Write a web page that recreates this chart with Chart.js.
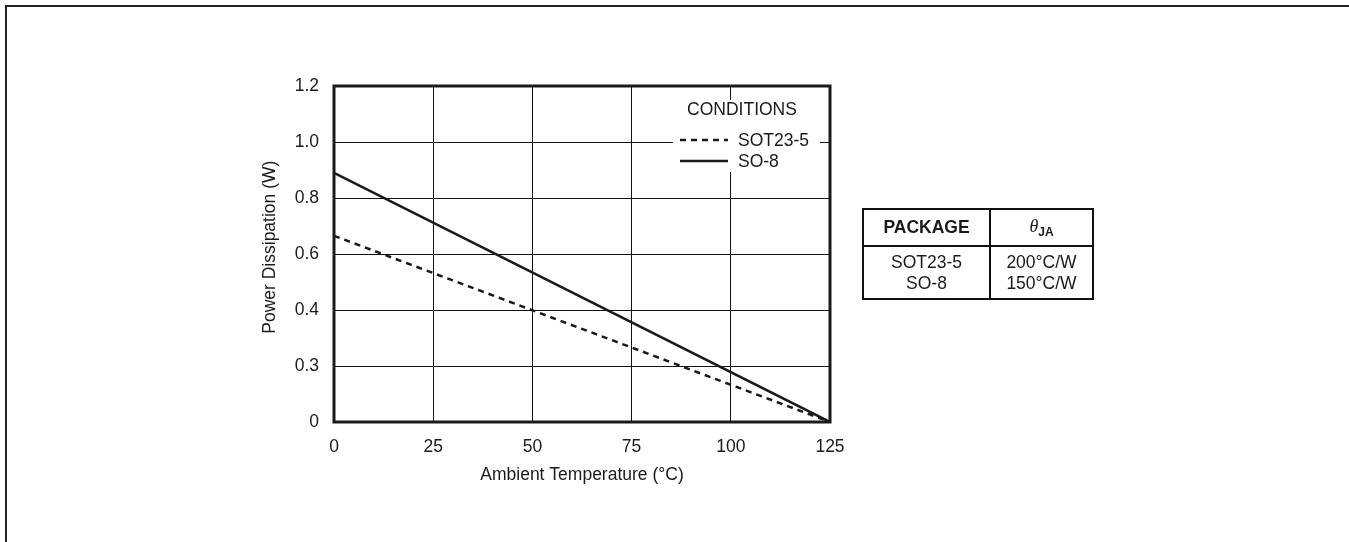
<!DOCTYPE html>
<html>
<head>
<meta charset="utf-8">
<title>Power Dissipation vs Ambient Temperature</title>
<script src="https://cdn.jsdelivr.net/npm/chart.js@4.4.0/dist/chart.umd.min.js"></script>
<style>
  body { margin: 0; background: #fff; }
  #wrap { position: relative; width: 1349px; height: 542px; overflow: hidden; background: #fff; }
  #frame { position: absolute; left: 5px; top: 5px; width: 1400px; height: 600px;
           border-top: 2px solid #222; border-left: 2px solid #222; }
  #chart { position: absolute; left: 0; top: 0; }
  #pkg { position: absolute; left: 862px; top: 208px; width: 232px; table-layout: fixed;
         border-collapse: separate; border-spacing: 0; border: 2px solid #111;
         font-family: "Liberation Sans", Arial, sans-serif; font-size: 17.5px; color: #1a1a1a; }
  #pkg th, #pkg td { padding: 0; text-align: center; vertical-align: middle; }
  #pkg th { height: 35px; border-bottom: 2px solid #111; }
  #pkg .c1 { width: 125px; border-right: 2px solid #111; }
  #pkg td { height: 51px; line-height: 21px; }
  #pkg i { font-family: "Liberation Serif", "Times New Roman", serif; font-size: 18px; font-weight: normal; }
  #pkg sub { font-weight: bold; font-size: 12px; vertical-align: -4px; }
</style>
</head>
<body>
<div id="wrap">
  <div id="frame"></div>
  <canvas id="chart" width="1349" height="542"></canvas>
  <table id="pkg">
    <tr><th class="c1">PACKAGE</th><th><i>θ</i><sub>JA</sub></th></tr>
    <tr><td class="c1">SOT23-5<br>SO-8</td><td>200°C/W<br>150°C/W</td></tr>
  </table>
</div>
<script>
// datos
const temps = [0, 125];
const sot23 = [0.665, 0];
const so8 = [0.89, 0];
const seriesNames = ['SOT23-5', 'SO-8'];
const legendTitle = 'CONDITIONS';
const xTickLabels = ['0', '25', '50', '75', '100', '125'];
const yTickLabels = ['0', '0.3', '0.4', '0.6', '0.8', '1.0', '1.2'];

const FONT = '"Liberation Sans", Arial, sans-serif';
const INK = '#1a1a1a';

// recuadro del grafico y leyenda "CONDITIONS"
const marcoYLeyenda = {
  id: 'marcoYLeyenda',
  beforeDatasetsDraw(chart) {
    const { ctx, chartArea: a } = chart;
    ctx.save();
    ctx.fillStyle = '#fff';
    ctx.fillRect(a.right - 157, a.top + 14, 147, 72);
    ctx.restore();
  },
  afterDatasetsDraw(chart) {
    const { ctx, chartArea: a } = chart;
    ctx.save();
    ctx.strokeStyle = INK;
    ctx.lineWidth = 3;
    ctx.strokeRect(a.left, a.top, a.right - a.left, a.bottom - a.top);

    ctx.font = '17.5px ' + FONT;
    ctx.fillStyle = INK;
    ctx.textBaseline = 'middle';
    ctx.textAlign = 'center';
    ctx.fillText(legendTitle, a.right - 88, a.top + 24);

    ctx.textAlign = 'left';
    const rows = [a.top + 54, a.top + 75];
    chart.data.datasets.forEach((ds, i) => {
      const y = rows[i];
      ctx.beginPath();
      ctx.setLineDash(ds.borderDash || []);
      ctx.lineWidth = ds.borderWidth;
      ctx.strokeStyle = ds.borderColor;
      ctx.moveTo(a.right - 150, y);
      ctx.lineTo(a.right - 102, y);
      ctx.stroke();
      ctx.setLineDash([]);
      ctx.fillText(ds.label, a.right - 92, y + 1);
    });
    ctx.restore();
  }
};

const ctx = document.getElementById('chart').getContext('2d');
new Chart(ctx, {
  type: 'line',
  data: {
    datasets: [
      {
        label: seriesNames[0],
        data: temps.map((t, i) => ({ x: t, y: sot23[i] })),
        borderColor: INK,
        borderWidth: 2.5,
        borderDash: [6, 5],
        pointRadius: 0,
        fill: false
      },
      {
        label: seriesNames[1],
        data: temps.map((t, i) => ({ x: t, y: so8[i] })),
        borderColor: INK,
        borderWidth: 2.5,
        pointRadius: 0,
        fill: false
      }
    ]
  },
  options: {
    responsive: false,
    animation: false,
    devicePixelRatio: 1,
    layout: { padding: { left: 260, top: 86, right: 519, bottom: 50 } },
    plugins: {
      legend: { display: false },
      tooltip: { enabled: false }
    },
    scales: {
      x: {
        type: 'linear',
        min: 0,
        max: 125,
        afterFit(scale) { scale.height = 70; },
        ticks: {
          stepSize: 25,
          padding: 15,
          maxRotation: 0,
          color: INK,
          font: { family: FONT, size: 17.5 },
          callback: (v, i) => xTickLabels[i]
        },
        grid: { color: '#111', lineWidth: 1, drawTicks: false },
        border: { display: false },
        title: {
          display: true,
          text: 'Ambient Temperature (°C)',
          color: INK,
          font: { family: FONT, size: 17.5 },
          padding: { top: 0, bottom: 6 }
        }
      },
      y: {
        min: 0,
        max: 1.2,
        afterFit(scale) { scale.width = 74; },
        ticks: {
          stepSize: 0.2,
          padding: 15,
          color: INK,
          font: { family: FONT, size: 17.5 },
          callback: (v, i) => yTickLabels[i]
        },
        grid: { color: '#111', lineWidth: 1, drawTicks: false },
        border: { display: false },
        title: {
          display: true,
          // espacio inicial para subir un poco el titulo
          text: '\u2002 Power Dissipation (W)',
          color: INK,
          font: { family: FONT, size: 17.5 },
          padding: { top: 0, bottom: 0 }
        }
      }
    }
  },
  plugins: [marcoYLeyenda]
});
</script>
</body>
</html>
